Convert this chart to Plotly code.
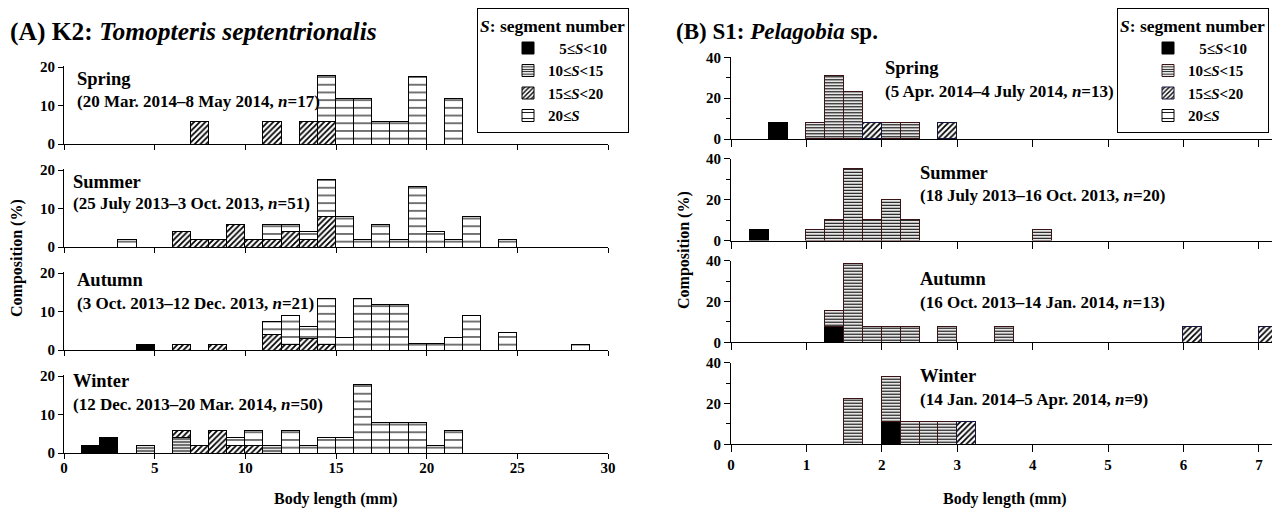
import plotly.graph_objects as go

# ---------------- data ----------------
# Panel A: Tomopteris septentrionalis, 1-mm bins, lower bin edges (mm)
A_EDGES = [0, 1, 2, 3, 4, 5, 6, 7, 8, 9, 10, 11, 12, 13, 14, 15, 16, 17, 18, 19,
           20, 21, 22, 23, 24, 25, 26, 27, 28, 29]
A_BIN = 1.0
# Panel B: Pelagobia sp., 0.25-mm bins, lower bin edges (mm)
B_EDGES = [0, 0.25, 0.5, 0.75, 1.0, 1.25, 1.5, 1.75, 2.0, 2.25, 2.5, 2.75, 3.0, 3.25,
           3.5, 3.75, 4.0, 4.25, 4.5, 4.75, 5.0, 5.25, 5.5, 5.75, 6.0, 6.25, 6.5, 6.75, 7.0]
B_BIN = 0.25

SEASONS = ["Spring", "Summer", "Autumn", "Winter"]

A_PERIODS = ["(20 Mar. 2014\u20138 May 2014, <i>n</i>=17)",
             "(25 July 2013\u20133 Oct. 2013, <i>n</i>=51)",
             "(3 Oct. 2013\u201312 Dec. 2013, <i>n</i>=21)",
             "(12 Dec. 2013\u201320 Mar. 2014, <i>n</i>=50)"]
B_PERIODS = ["(5 Apr. 2014\u20134 July 2014, <i>n</i>=13)",
             "(18 July 2013\u201316 Oct. 2013, <i>n</i>=20)",
             "(16 Oct. 2013\u201314 Jan. 2014, <i>n</i>=13)",
             "(14 Jan. 2014\u20135 Apr. 2014, <i>n</i>=9)"]

# composition (%) per bin; A arrays have 30 bins
A_SPRING_S5 =  [0, 0, 0, 0, 0, 0, 0, 0, 0, 0,  0, 0, 0, 0, 0, 0, 0, 0, 0, 0,  0, 0, 0, 0, 0, 0, 0, 0, 0, 0]
A_SPRING_S10 = [0, 0, 0, 0, 0, 0, 0, 0, 0, 0,  0, 0, 0, 0, 0, 0, 0, 0, 0, 0,  0, 0, 0, 0, 0, 0, 0, 0, 0, 0]
A_SPRING_S15 = [0, 0, 0, 0, 0, 0, 0, 5.9, 0, 0,  0, 5.9, 0, 5.9, 5.9, 0, 0, 0, 0, 0,  0, 0, 0, 0, 0, 0, 0, 0, 0, 0]
A_SPRING_S20 = [0, 0, 0, 0, 0, 0, 0, 0, 0, 0,  0, 0, 0, 0, 11.8, 11.8, 11.8, 5.9, 5.9, 17.6,  0, 11.8, 0, 0, 0, 0, 0, 0, 0, 0]

A_SUMMER_S5 =  [0, 0, 0, 0, 0, 0, 0, 0, 0, 0,  0, 0, 0, 0, 0, 0, 0, 0, 0, 0,  0, 0, 0, 0, 0, 0, 0, 0, 0, 0]
A_SUMMER_S10 = [0, 0, 0, 0, 0, 0, 0, 0, 0, 0,  0, 0, 0, 0, 0, 0, 0, 0, 0, 0,  0, 0, 0, 0, 0, 0, 0, 0, 0, 0]
A_SUMMER_S15 = [0, 0, 0, 0, 0, 0, 3.9, 2.0, 2.0, 5.9,  2.0, 2.0, 3.9, 2.0, 7.8, 0, 0, 0, 0, 0,  0, 0, 0, 0, 0, 0, 0, 0, 0, 0]
A_SUMMER_S20 = [0, 0, 0, 2.0, 0, 0, 0, 0, 0, 0,  0, 3.9, 2.0, 2.0, 9.8, 7.8, 2.0, 5.9, 2.0, 15.7,  3.9, 2.0, 7.8, 0, 2.0, 0, 0, 0, 0, 0]

A_AUTUMN_S5 =  [0, 0, 0, 0, 1.5, 0, 0, 0, 0, 0,  0, 0, 0, 0, 0, 0, 0, 0, 0, 0,  0, 0, 0, 0, 0, 0, 0, 0, 0, 0]
A_AUTUMN_S10 = [0, 0, 0, 0, 0, 0, 0, 0, 0, 0,  0, 0, 0, 0, 0, 0, 0, 0, 0, 0,  0, 0, 0, 0, 0, 0, 0, 0, 0, 0]
A_AUTUMN_S15 = [0, 0, 0, 0, 0, 0, 1.5, 0, 1.5, 0,  0, 4.0, 1.5, 3.0, 1.4, 0, 0, 0, 0, 0,  0, 0, 0, 0, 0, 0, 0, 0, 0, 0]
A_AUTUMN_S20 = [0, 0, 0, 0, 0, 0, 0, 0, 0, 0,  0, 3.4, 7.4, 3.0, 12.1, 3.2, 13.5, 11.9, 11.9, 1.6,  1.6, 3.2, 8.9, 0, 4.5, 0, 0, 0, 1.5, 0]

A_WINTER_S5 =  [0, 2.0, 3.9, 0, 0, 0, 0, 0, 0, 0,  0, 0, 0, 0, 0, 0, 0, 0, 0, 0,  0, 0, 0, 0, 0, 0, 0, 0, 0, 0]
A_WINTER_S10 = [0, 0, 0, 0, 2.0, 0, 3.9, 0, 0, 0,  0, 2.0, 0, 0, 0, 0, 0, 0, 0, 0,  0, 0, 0, 0, 0, 0, 0, 0, 0, 0]
A_WINTER_S15 = [0, 0, 0, 0, 0, 0, 2.0, 2.0, 5.9, 2.0,  2.0, 0, 0, 0, 0, 0, 0, 0, 0, 0,  0, 0, 0, 0, 0, 0, 0, 0, 0, 0]
A_WINTER_S20 = [0, 0, 0, 0, 0, 0, 0, 0, 0, 2.0,  3.9, 0, 5.9, 2.0, 3.9, 3.9, 17.8, 7.8, 7.8, 7.8,  2.0, 5.9, 0, 0, 0, 0, 0, 0, 0, 0]

# B arrays have 29 bins
B_SPRING_S5 =  [0, 0, 7.7, 0, 0, 0, 0, 0, 0, 0,  0, 0, 0, 0, 0, 0, 0, 0, 0, 0,  0, 0, 0, 0, 0, 0, 0, 0, 0]
B_SPRING_S10 = [0, 0, 0, 0, 7.7, 30.8, 23.1, 0, 7.7, 7.7,  0, 0, 0, 0, 0, 0, 0, 0, 0, 0,  0, 0, 0, 0, 0, 0, 0, 0, 0]
B_SPRING_S15 = [0, 0, 0, 0, 0, 0, 0, 7.7, 0, 0,  0, 7.7, 0, 0, 0, 0, 0, 0, 0, 0,  0, 0, 0, 0, 0, 0, 0, 0, 0]
B_SPRING_S20 = [0, 0, 0, 0, 0, 0, 0, 0, 0, 0,  0, 0, 0, 0, 0, 0, 0, 0, 0, 0,  0, 0, 0, 0, 0, 0, 0, 0, 0]

B_SUMMER_S5 =  [0, 5.0, 0, 0, 0, 0, 0, 0, 0, 0,  0, 0, 0, 0, 0, 0, 0, 0, 0, 0,  0, 0, 0, 0, 0, 0, 0, 0, 0]
B_SUMMER_S10 = [0, 0, 0, 0, 5.0, 10.0, 35.0, 10.0, 20.0, 10.0,  0, 0, 0, 0, 0, 0, 5.0, 0, 0, 0,  0, 0, 0, 0, 0, 0, 0, 0, 0]
B_SUMMER_S15 = [0, 0, 0, 0, 0, 0, 0, 0, 0, 0,  0, 0, 0, 0, 0, 0, 0, 0, 0, 0,  0, 0, 0, 0, 0, 0, 0, 0, 0]
B_SUMMER_S20 = [0, 0, 0, 0, 0, 0, 0, 0, 0, 0,  0, 0, 0, 0, 0, 0, 0, 0, 0, 0,  0, 0, 0, 0, 0, 0, 0, 0, 0]

B_AUTUMN_S5 =  [0, 0, 0, 0, 0, 7.7, 0, 0, 0, 0,  0, 0, 0, 0, 0, 0, 0, 0, 0, 0,  0, 0, 0, 0, 0, 0, 0, 0, 0]
B_AUTUMN_S10 = [0, 0, 0, 0, 0, 7.7, 38.5, 7.7, 7.7, 7.7,  0, 7.7, 0, 0, 7.7, 0, 0, 0, 0, 0,  0, 0, 0, 0, 0, 0, 0, 0, 0]
B_AUTUMN_S15 = [0, 0, 0, 0, 0, 0, 0, 0, 0, 0,  0, 0, 0, 0, 0, 0, 0, 0, 0, 0,  0, 0, 0, 0, 7.7, 0, 0, 0, 7.7]
B_AUTUMN_S20 = [0, 0, 0, 0, 0, 0, 0, 0, 0, 0,  0, 0, 0, 0, 0, 0, 0, 0, 0, 0,  0, 0, 0, 0, 0, 0, 0, 0, 0]

B_WINTER_S5 =  [0, 0, 0, 0, 0, 0, 0, 0, 11.1, 0,  0, 0, 0, 0, 0, 0, 0, 0, 0, 0,  0, 0, 0, 0, 0, 0, 0, 0, 0]
B_WINTER_S10 = [0, 0, 0, 0, 0, 0, 22.2, 0, 22.2, 11.1,  11.1, 11.1, 0, 0, 0, 0, 0, 0, 0, 0,  0, 0, 0, 0, 0, 0, 0, 0, 0]
B_WINTER_S15 = [0, 0, 0, 0, 0, 0, 0, 0, 0, 0,  0, 0, 11.1, 0, 0, 0, 0, 0, 0, 0,  0, 0, 0, 0, 0, 0, 0, 0, 0]
B_WINTER_S20 = [0, 0, 0, 0, 0, 0, 0, 0, 0, 0,  0, 0, 0, 0, 0, 0, 0, 0, 0, 0,  0, 0, 0, 0, 0, 0, 0, 0, 0]

A_DATA = [[A_SPRING_S5, A_SPRING_S10, A_SPRING_S15, A_SPRING_S20],
          [A_SUMMER_S5, A_SUMMER_S10, A_SUMMER_S15, A_SUMMER_S20],
          [A_AUTUMN_S5, A_AUTUMN_S10, A_AUTUMN_S15, A_AUTUMN_S20],
          [A_WINTER_S5, A_WINTER_S10, A_WINTER_S15, A_WINTER_S20]]
B_DATA = [[B_SPRING_S5, B_SPRING_S10, B_SPRING_S15, B_SPRING_S20],
          [B_SUMMER_S5, B_SUMMER_S10, B_SUMMER_S15, B_SUMMER_S20],
          [B_AUTUMN_S5, B_AUTUMN_S10, B_AUTUMN_S15, B_AUTUMN_S20],
          [B_WINTER_S5, B_WINTER_S10, B_WINTER_S15, B_WINTER_S20]]

# ---------------- layout helpers ----------------
W, H = 1280, 509
OFF = 8          # the page body adds an 8-px offset; positions below are screen pixels
FONT = "Liberation Serif, Times New Roman, serif"


def px(x):
    return (x - OFF) / W


def py(y):
    return 1 - (y - OFF) / H


LEGEND_LABELS = ["\u00a0\u00a0\u00a05\u2264<i>S</i>&lt;10", "10\u2264<i>S</i>&lt;15",
                 "15\u2264<i>S</i>&lt;20", "20\u2264<i>S</i>"]


def marker_style(ci, panel):
    edge = "black"
    if panel == "B" and ci == 1:
        edge = "#3a1414"
    if panel == "B" and ci == 2:
        edge = "#14143a"
    if ci == 0:
        return dict(color="black", line=dict(color=edge, width=1))
    if ci == 1:
        pat = dict(shape="-", size=3, solidity=0.4, fgcolor="black", bgcolor="white", fillmode="replace")
    elif ci == 2:
        pat = dict(shape="/", size=4, solidity=0.45, fgcolor="black", bgcolor="white", fillmode="replace")
    else:
        pat = dict(shape="-", size=7.7, solidity=0.14, fgcolor="black", bgcolor="white", fillmode="replace")
    return dict(color="white", pattern=pat, line=dict(color=edge, width=1))


fig = go.Figure()

# panel geometry (screen pixel rows of each small panel)
A_BASE = [144, 247, 350, 453]
A_TOP = [65.5, 168.5, 271.5, 374.5]
B_BASE = [139, 240.5, 342.3, 444.3]
B_TOP = [57.3, 158.8, 260.7, 362.7]

TICKFONT = dict(family=FONT, size=15, color="black", weight="bold")

layout_axes = {}
for si in range(4):
    # ---- panel A ----
    ax = si + 1
    for ci in range(4):
        vals = A_DATA[si][ci]
        fig.add_trace(go.Bar(
            x=[e + A_BIN / 2 for e in A_EDGES],
            y=[v if v else None for v in vals],
            width=A_BIN,
            marker=marker_style(ci, "A"),
            name=LEGEND_LABELS[ci],
            legendgroup="A" + str(ci),
            showlegend=(si == 0),
            legend="legend",
            xaxis="x" + str(ax), yaxis="y" + str(ax),
            hoverinfo="skip",
        ))
    layout_axes["xaxis" + str(ax)] = dict(
        domain=[px(64), px(608)], range=[0, 30], anchor="y" + str(ax),
        showline=True, linecolor="black", linewidth=1,
        ticks="outside", ticklen=5, tickcolor="black", tickwidth=1,
        tickvals=[0, 5, 10, 15, 20, 25, 30], automargin=False,
        ticklabelstandoff=-4,
        showticklabels=(si == 3), showgrid=False, zeroline=False,
        tickfont=TICKFONT,
    )
    layout_axes["yaxis" + str(ax)] = dict(
        domain=[py(A_BASE[si]), py(A_TOP[si])], range=[0, 20.4], anchor="x" + str(ax),
        showline=True, linecolor="black", linewidth=1,
        ticks="outside", ticklen=5, tickcolor="black", tickwidth=1,
        tickvals=[0, 10, 20], showgrid=False, zeroline=False, automargin=False,
        tickfont=TICKFONT,
    )
    # ---- panel B ----
    bx = si + 5
    for ci in range(4):
        vals = B_DATA[si][ci]
        fig.add_trace(go.Bar(
            x=[e + B_BIN / 2 for e in B_EDGES],
            y=[v if v else None for v in vals],
            width=B_BIN,
            marker=marker_style(ci, "B"),
            name=LEGEND_LABELS[ci],
            legendgroup="B" + str(ci),
            showlegend=(si == 0),
            legend="legend2",
            xaxis="x" + str(bx), yaxis="y" + str(bx),
            hoverinfo="skip",
        ))
    layout_axes["xaxis" + str(bx)] = dict(
        domain=[px(731), px(1280)], range=[0, 7.28], anchor="y" + str(bx),
        showline=True, linecolor="black", linewidth=1,
        ticks="outside", ticklen=7, tickcolor="black", tickwidth=1,
        tickvals=[0, 1, 2, 3, 4, 5, 6, 7], automargin=False,
        showticklabels=(si == 3), showgrid=False, zeroline=False,
        tickfont=TICKFONT,
    )
    layout_axes["yaxis" + str(bx)] = dict(
        domain=[py(B_BASE[si]), py(B_TOP[si])], range=[0, 40], anchor="x" + str(bx),
        showline=True, linecolor="black", linewidth=1,
        ticks="outside", ticklen=6, tickcolor="black", tickwidth=1,
        tickvals=[0, 20, 40], showgrid=False, zeroline=False, automargin=False,
        minor=dict(tickvals=[10, 30], ticks="outside", ticklen=4, tickcolor="black"),
        tickfont=TICKFONT,
    )

annotations = []


def add_text(text, x, y, size, xanchor="left", yanchor="middle", angle=0):
    annotations.append(dict(
        text=text, x=px(x), y=py(y), xref="paper", yref="paper",
        xanchor=xanchor, yanchor=yanchor, showarrow=False, textangle=angle,
        font=dict(family=FONT, size=size, color="black"),
    ))


# titles
add_text("<b>(A) K2: <i>Tomopteris septentrionalis</i></b>", 8, 31, 25.5)
add_text("<b>(B) S1: <i>Pelagobia</i> sp.</b>", 674, 31, 23)

# season labels
A_LABEL_POS = [(75, 79, 102), (71, 182, 204), (75, 280, 303), (71, 381, 404)]
B_LABEL_POS = [(883, 68, 91), (918, 173, 196), (918, 279, 302), (918, 376, 399)]
for si in range(4):
    x0, y1, y2 = A_LABEL_POS[si]
    add_text("<b>" + SEASONS[si] + "</b>", x0, y1, 18.5)
    add_text("<b>" + A_PERIODS[si] + "</b>", x0, y2, 17)
    x0, y1, y2 = B_LABEL_POS[si]
    add_text("<b>" + SEASONS[si] + "</b>", x0, y1, 18.5)
    add_text("<b>" + B_PERIODS[si] + "</b>", x0, y2, 17)

# axis titles
add_text("<b>Body length (mm)</b>", 336, 499, 16, xanchor="center")
add_text("<b>Body length (mm)</b>", 1005, 499, 16, xanchor="center")
add_text("<b>Composition (%)</b>", 17, 258, 16, xanchor="center", angle=-90)
add_text("<b>Composition (%)</b>", 684, 250, 16, xanchor="center", angle=-90)

legend_common = dict(
    xref="container", yref="container",
    xanchor="left", yanchor="top", y=py(7),
    bordercolor="black", borderwidth=1, bgcolor="white",
    font=dict(family=FONT, size=15, color="black", weight="bold"),
    title=dict(text="<i>S</i>: segment number",
               font=dict(family=FONT, size=17.5, color="black", weight="bold")),
    traceorder="normal", tracegroupgap=0, indentation=30,
)

fig.update_layout(
    width=W, height=H,
    margin=dict(l=0, r=0, t=0, b=0, autoexpand=False),
    paper_bgcolor="white", plot_bgcolor="white",
    barmode="stack", bargap=0,
    hovermode=False,
    showlegend=True,
    legend=dict(x=px(477), **legend_common),
    legend2=dict(x=px(1117), **legend_common),
    annotations=annotations,
    font=dict(family=FONT, color="black"),
    **layout_axes,
)

fig.write_html("out.html")
